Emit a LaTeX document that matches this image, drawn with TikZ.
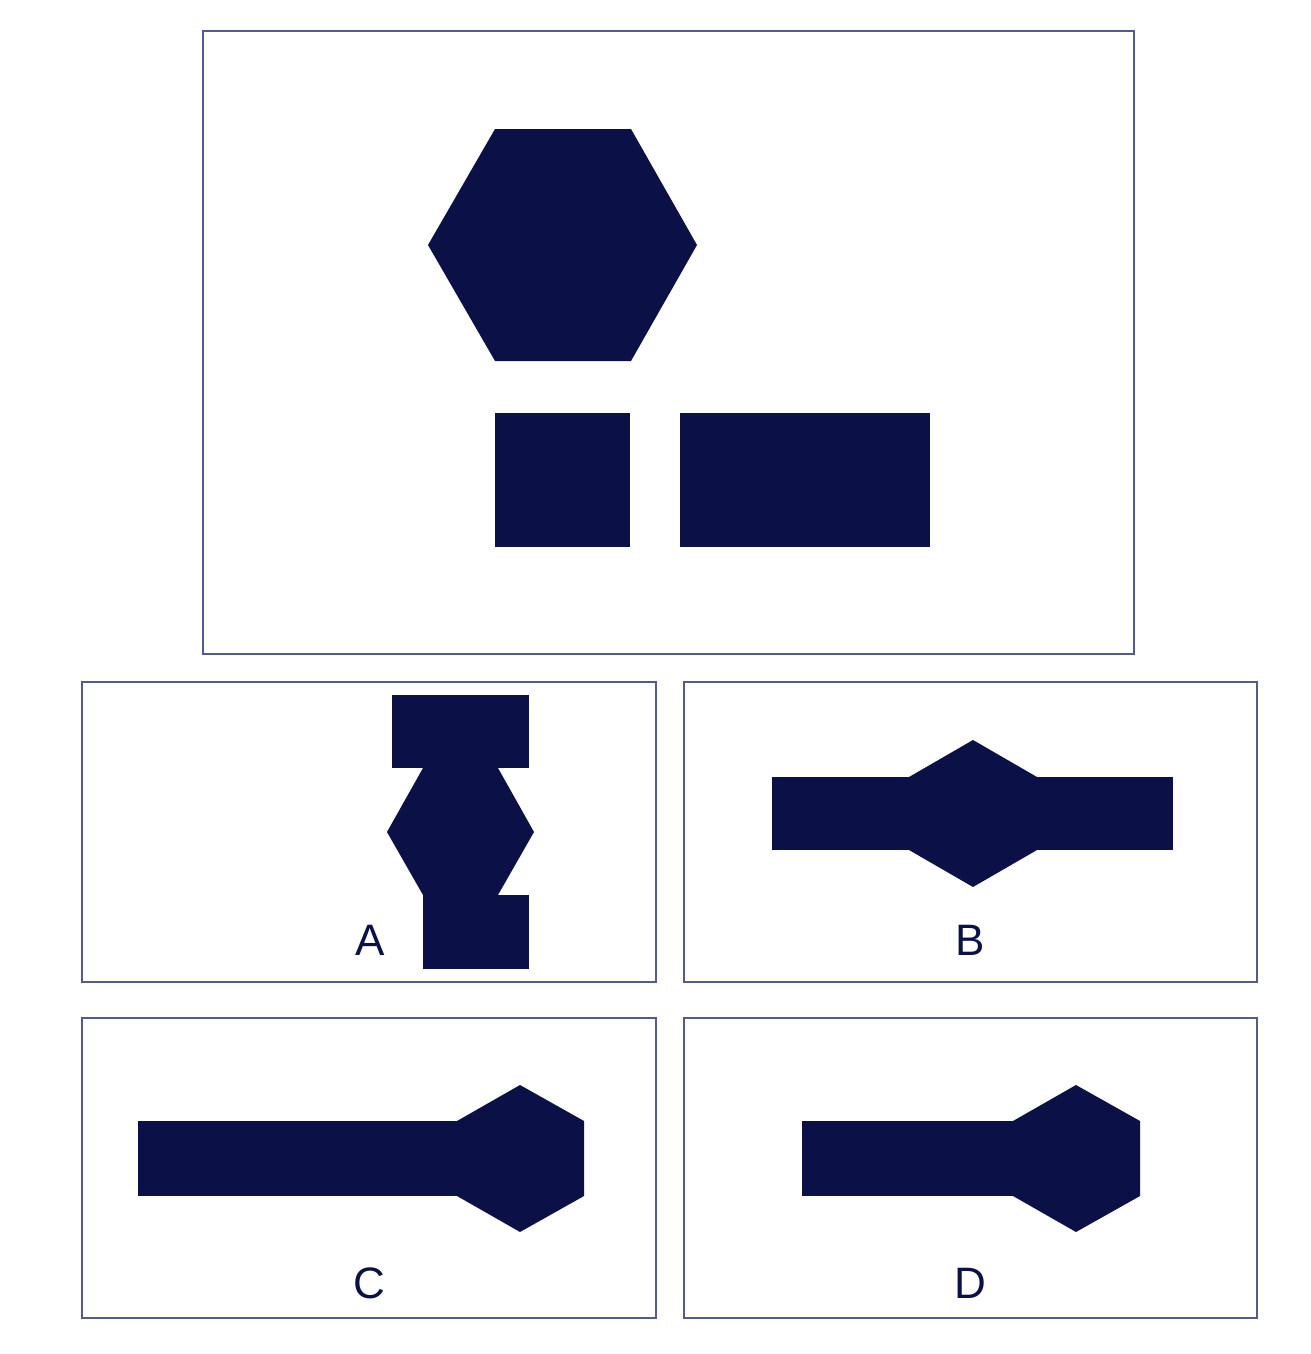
\documentclass[tikz,border=0pt]{standalone}
\usepackage{fontspec}
\setmainfont{Liberation Sans}
\definecolor{navy}{HTML}{0B1146}
\definecolor{framec}{HTML}{565A8A}
\begin{document}
\begin{tikzpicture}[x=1pt,y=-1pt,
  panel/.style={draw=framec,line width=2.6pt},
  solid shape/.style={fill=navy,draw=none},
  lbl/.style={anchor=base,text=navy,font=\fontsize{44}{50}\selectfont,inner sep=0pt}]
\useasboundingbox[fill=white] (0,0) rectangle (1310,1354);
% frames
\draw[panel] (203,31) rectangle (1134,654);
\draw[panel] (82,682) rectangle (656,982);
\draw[panel] (684,682) rectangle (1257,982);
\draw[panel] (82,1018) rectangle (656,1318);
\draw[panel] (684,1018) rectangle (1257,1318);
% top: hexagon, square, rectangle
\fill[solid shape] (495,129) -- (631,129) -- (697,245) -- (631,361) -- (495,361) -- (428,245) -- cycle;
\fill[solid shape] (495,413) rectangle (630,547);
\fill[solid shape] (680,413) rectangle (930,547);
% A
\fill[solid shape] (392,695) rectangle (529,768);
\fill[solid shape] (423,768) -- (498,768) -- (534,832) -- (498,895) -- (423,895) -- (387,832) -- cycle;
\fill[solid shape] (423,895) rectangle (529,969);
\node[lbl] (la) at (370,955) {A};
% B
\fill[solid shape] (772,777) rectangle (1173,850);
\fill[solid shape] (973,740) -- (1037,777) -- (1037,850) -- (973,887) -- (909,850) -- (909,777) -- cycle;
\node[lbl] (lb) at (970,955) {B};
% C
\fill[solid shape] (138,1121) rectangle (470,1196);
\fill[solid shape] (520,1085) -- (584,1121) -- (584,1196) -- (520,1232) -- (457,1196) -- (457,1121) -- cycle;
\node[lbl] (lc) at (369,1298) {C};
% D
\fill[solid shape] (802,1121) rectangle (1030,1196);
\fill[solid shape] (1076,1085) -- (1140,1121) -- (1140,1196) -- (1076,1232) -- (1013,1196) -- (1013,1121) -- cycle;
\node[lbl] (ld) at (970,1298) {D};
\end{tikzpicture}
\end{document}
